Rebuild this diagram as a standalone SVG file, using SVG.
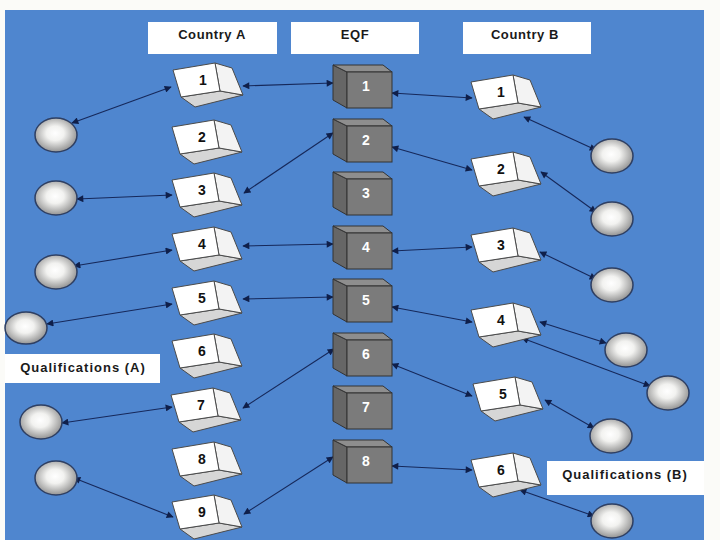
<svg xmlns="http://www.w3.org/2000/svg" xmlns:xlink="http://www.w3.org/1999/xlink" width="720" height="540" viewBox="0 0 720 540">
<style>
.hdr{fill:#ffffff}
.ht{font-family:"Liberation Sans",Arial,sans-serif;font-weight:bold;font-size:13px;fill:#1a1a1a;text-anchor:middle;letter-spacing:0.6px}
.ql{font-family:"Liberation Sans",Arial,sans-serif;font-weight:bold;font-size:13px;fill:#1a1a1a;text-anchor:middle;letter-spacing:1px}
.wn{font-family:"Liberation Sans",Arial,sans-serif;font-weight:bold;font-size:14px;fill:#111;text-anchor:middle}
.gn{font-family:"Liberation Sans",Arial,sans-serif;font-weight:bold;font-size:14px;fill:#ffffff;text-anchor:middle}
.cf{fill:#ffffff;stroke:#4a4a4a;stroke-width:1;stroke-linejoin:round}
.cr{fill:#f3f3f3;stroke:#4a4a4a;stroke-width:1;stroke-linejoin:round}
.cb{fill:#d6d6d6;stroke:#4a4a4a;stroke-width:1;stroke-linejoin:round}
.gf{fill:#7b7b7b;stroke:#333;stroke-width:1}
.gl{fill:#666666;stroke:#333;stroke-width:1}
.gt{fill:#8e8e8e;stroke:#333;stroke-width:1}
.q{fill:url(#qg);stroke:#2e3f63;stroke-width:1.5}
.ln{stroke:#16285a;stroke-width:1.1;fill:none;marker-start:url(#ah);marker-end:url(#ah)}
</style>
<defs>
<radialGradient id="qg" cx="48%" cy="45%" r="60%">
<stop offset="0" stop-color="#ffffff"/>
<stop offset="0.35" stop-color="#f2f2f0"/>
<stop offset="1" stop-color="#858585"/>
</radialGradient>
<marker id="ah" viewBox="0 0 10 10" refX="9" refY="5" markerWidth="8" markerHeight="7" markerUnits="userSpaceOnUse" orient="auto-start-reverse">
<path d="M0,0 L10,5 L0,10 z" fill="#0f1f4a"/>
</marker>
<g id="wc">
<polygon class="cb" points="-22,17 17,11 40,15 -8,27"/>
<polygon class="cr" points="12,-17 29,-12 40,15 17,11"/>
<polygon class="cf" points="-30,-10 12,-17 17,11 -22,17"/>
</g>
<g id="gc">
<polygon class="gl" points="-33,-21 -19,-14 -19,22 -33,14"/>
<polygon class="gt" points="-33,-21 17,-21 26,-14 -19,-14"/>
<rect class="gf" x="-19" y="-14" width="45" height="36"/>
</g>
</defs>
<rect x="0" y="0" width="720" height="540" fill="#fbfbf8"/>
<rect x="5" y="10" width="699" height="530" fill="#4f86cf"/>

<g id="header-a"><rect class="hdr" x="148" y="22" width="129" height="32"/><text class="ht" x="212" y="39">Country A</text></g>
<g id="header-eqf"><rect class="hdr" x="291" y="22" width="128" height="32"/><text class="ht" x="355" y="39">EQF</text></g>
<g id="header-b"><rect class="hdr" x="463" y="22" width="128" height="32"/><text class="ht" x="525" y="39">Country B</text></g>

<g id="label-qa"><rect class="hdr" x="5" y="354" width="155" height="29"/><text class="ql" x="83" y="372">Qualifications (A)</text></g>
<g id="label-qb"><rect class="hdr" x="547" y="461" width="157" height="34"/><text class="ql" x="625" y="479">Qualifications (B)</text></g>

<g id="connectors">
<line class="ln" x1="171" y1="87" x2="72" y2="123"/>
<line class="ln" x1="243" y1="86" x2="333" y2="83"/>
<line class="ln" x1="172" y1="195" x2="77" y2="199"/>
<line class="ln" x1="244" y1="193" x2="333" y2="133"/>
<line class="ln" x1="172" y1="250" x2="74" y2="266"/>
<line class="ln" x1="243" y1="246" x2="333" y2="244"/>
<line class="ln" x1="172" y1="304" x2="47" y2="324"/>
<line class="ln" x1="243" y1="299" x2="333" y2="297"/>
<line class="ln" x1="172" y1="407" x2="62" y2="423"/>
<line class="ln" x1="243" y1="408" x2="334" y2="349"/>
<line class="ln" x1="173" y1="517" x2="74" y2="478"/>
<line class="ln" x1="244" y1="514" x2="333" y2="457"/>
<line class="ln" x1="392" y1="93" x2="472" y2="98"/>
<line class="ln" x1="392" y1="147" x2="472" y2="170"/>
<line class="ln" x1="392" y1="251" x2="472" y2="247"/>
<line class="ln" x1="392" y1="307" x2="472" y2="322"/>
<line class="ln" x1="392" y1="364" x2="472" y2="396"/>
<line class="ln" x1="392" y1="466" x2="472" y2="470"/>
<line class="ln" x1="524" y1="117" x2="596" y2="150"/>
<line class="ln" x1="541" y1="172" x2="596" y2="212"/>
<line class="ln" x1="540" y1="252" x2="596" y2="279"/>
<line class="ln" x1="540" y1="322" x2="606" y2="343"/>
<line class="ln" x1="522" y1="338" x2="650" y2="386"/>
<line class="ln" x1="545" y1="400" x2="594" y2="428"/>
<line class="ln" x1="520" y1="490" x2="594" y2="516"/>
</g>

<g id="a1"><use xlink:href="#wc" x="203" y="80"/><text class="wn" x="203" y="85">1</text></g>
<g id="a2"><use xlink:href="#wc" x="202" y="137"/><text class="wn" x="202" y="142">2</text></g>
<g id="a3"><use xlink:href="#wc" x="202" y="190"/><text class="wn" x="202" y="195">3</text></g>
<g id="a4"><use xlink:href="#wc" x="202" y="244"/><text class="wn" x="202" y="249">4</text></g>
<g id="a5"><use xlink:href="#wc" x="202" y="298"/><text class="wn" x="202" y="303">5</text></g>
<g id="a6"><use xlink:href="#wc" x="202" y="351"/><text class="wn" x="202" y="356">6</text></g>
<g id="a7"><use xlink:href="#wc" x="201" y="405"/><text class="wn" x="201" y="410">7</text></g>
<g id="a8"><use xlink:href="#wc" x="202" y="459"/><text class="wn" x="202" y="464">8</text></g>
<g id="a9"><use xlink:href="#wc" x="202" y="512"/><text class="wn" x="202" y="517">9</text></g>

<g id="e1"><use xlink:href="#gc" x="366" y="86"/><text class="gn" x="366" y="91">1</text></g>
<g id="e2"><use xlink:href="#gc" x="366" y="140"/><text class="gn" x="366" y="145">2</text></g>
<g id="e3"><use xlink:href="#gc" x="366" y="193"/><text class="gn" x="366" y="198">3</text></g>
<g id="e4"><use xlink:href="#gc" x="366" y="247"/><text class="gn" x="366" y="252">4</text></g>
<g id="e5"><use xlink:href="#gc" x="366" y="300"/><text class="gn" x="366" y="305">5</text></g>
<g id="e6"><use xlink:href="#gc" x="366" y="354"/><text class="gn" x="366" y="359">6</text></g>
<g id="e7"><use xlink:href="#gc" x="366" y="407"/><text class="gn" x="366" y="412">7</text></g>
<g id="e8"><use xlink:href="#gc" x="366" y="461"/><text class="gn" x="366" y="466">8</text></g>

<g id="b1"><use xlink:href="#wc" x="501" y="92"/><text class="wn" x="501" y="97">1</text></g>
<g id="b2"><use xlink:href="#wc" x="501" y="169"/><text class="wn" x="501" y="174">2</text></g>
<g id="b3"><use xlink:href="#wc" x="501" y="245"/><text class="wn" x="501" y="250">3</text></g>
<g id="b4"><use xlink:href="#wc" x="501" y="320"/><text class="wn" x="501" y="325">4</text></g>
<g id="b5"><use xlink:href="#wc" x="503" y="394"/><text class="wn" x="503" y="399">5</text></g>
<g id="b6"><use xlink:href="#wc" x="501" y="470"/><text class="wn" x="501" y="475">6</text></g>

<g id="qa1"><ellipse class="q" cx="56" cy="135" rx="21" ry="17"/></g>
<g id="qa2"><ellipse class="q" cx="56" cy="198" rx="21" ry="17"/></g>
<g id="qa3"><ellipse class="q" cx="56" cy="272" rx="21" ry="17"/></g>
<g id="qa4"><ellipse class="q" cx="26" cy="328" rx="21" ry="16"/></g>
<g id="qa5"><ellipse class="q" cx="41" cy="422" rx="21" ry="17"/></g>
<g id="qa6"><ellipse class="q" cx="56" cy="478" rx="21" ry="17"/></g>

<g id="qb1"><ellipse class="q" cx="612" cy="156" rx="21" ry="17"/></g>
<g id="qb2"><ellipse class="q" cx="612" cy="219" rx="21" ry="17"/></g>
<g id="qb3"><ellipse class="q" cx="612" cy="285" rx="21" ry="17"/></g>
<g id="qb4"><ellipse class="q" cx="626" cy="350" rx="21" ry="17"/></g>
<g id="qb5"><ellipse class="q" cx="668" cy="393" rx="21" ry="17"/></g>
<g id="qb6"><ellipse class="q" cx="611" cy="436" rx="21" ry="17"/></g>
<g id="qb7"><ellipse class="q" cx="612" cy="521" rx="21" ry="17"/></g>
</svg>
